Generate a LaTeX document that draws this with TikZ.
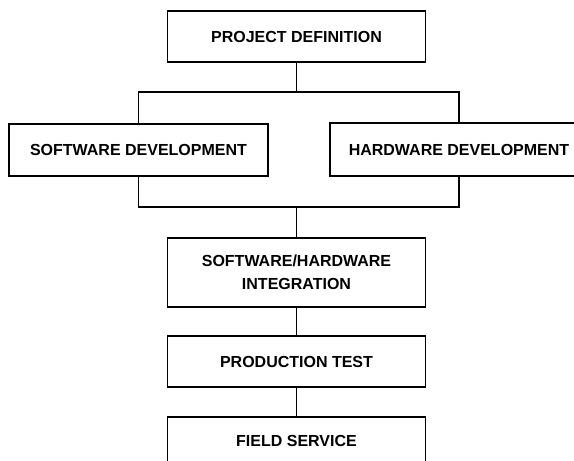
\documentclass[tikz,border=0pt]{standalone}
\usepackage{fontspec}
\setmainfont{Liberation Sans}
\tikzset{
  stage/.style = {draw, line width = 1.8pt, inner sep = 0pt, align = center,
    minimum width = 258pt, minimum height = 51pt,
    font = \bfseries\fontsize{16}{23.5}\selectfont},
  link/.style = {line width = 1.8pt}
}

\begin{document}
\begin{tikzpicture}[x = 1pt, y = -1pt]
\useasboundingbox (0,0) rectangle (574,461);
\node[stage] (proj) at (296.5,36.5) {PROJECT DEFINITION};
\node[stage, minimum width = 259pt, minimum height = 52pt] (soft) at (138.5,150) {SOFTWARE DEVELOPMENT};
\node[stage, minimum height = 53pt] (hard) at (459,149.5) {HARDWARE DEVELOPMENT};
\node[stage, minimum height = 69pt] (integ) at (296.5,272.5) {SOFTWARE/HARDWARE\\INTEGRATION};
\node[stage] (prod) at (296.5,361.5) {PRODUCTION TEST};
\node[stage, minimum height = 48pt] (field) at (296.5,441) {FIELD SERVICE};
\coordinate (split) at (296.5,92);
\coordinate (join) at (296.5,207);
\draw[link] (proj) -- (split);
\draw[link] (soft.north) |- (split) -| (hard.north);
\draw[link] (soft.south) |- (join) -| (hard.south);
\draw[link] (join) -- (integ);
\draw[link] (integ) -- (prod);
\draw[link] (prod) -- (field);
\end{tikzpicture}
\end{document}
